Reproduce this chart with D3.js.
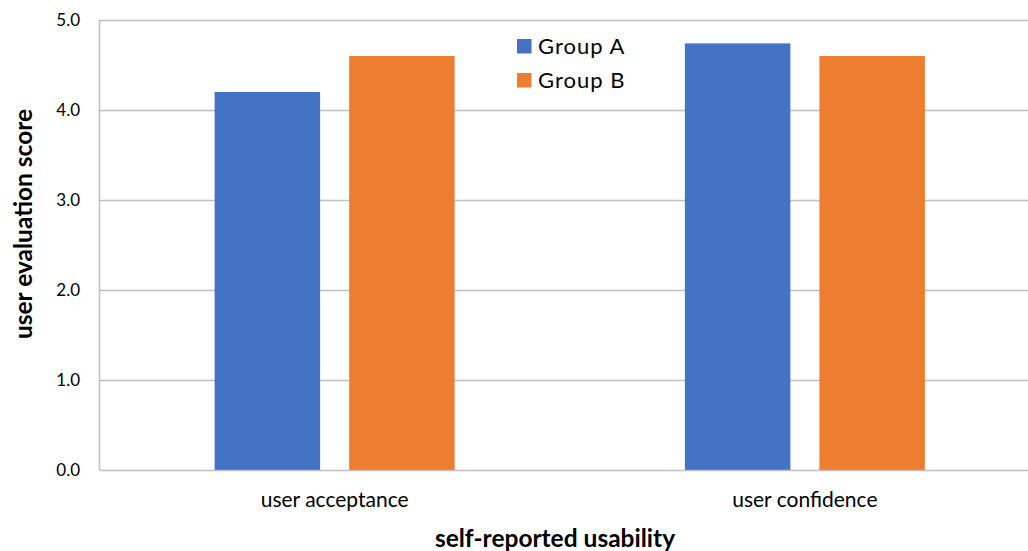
<!DOCTYPE html>
<html><head><meta charset="utf-8">
<script src="https://cdn.jsdelivr.net/npm/d3@7"></script>
<style>
html,body{margin:0;padding:0;background:#fff;}
text{font-family:Lato, "Open Sans", sans-serif;fill:#000;}
</style></head>
<body>
<svg id="chart" width="1028" height="551"></svg>
<script>
const categories = ["user acceptance", "user confidence"];
const groups = ["Group A", "Group B"];
const groupA = [4.2, 4.74];
const groupB = [4.6, 4.6];
const yTicks = [0, 1, 2, 3, 4, 5];
const colors = ["#4472C4", "#ED7D31"];

const svg = d3.select("#chart");
const pLeft = 99.5, pRight = 1040, pTop = 20, pBottom = 470;

const y = d3.scaleLinear().domain([0, 5]).range([pBottom, pTop]);
const x0 = d3.scaleBand().domain(categories).range([pLeft, pRight]);
const groupW = 240;
const x1 = d3.scaleBand().domain(groups).range([0, groupW]).paddingInner(0.216);

// gridlines
svg.append("g").selectAll("line").data(yTicks.filter(d => d > 0)).join("line")
  .attr("x1", pLeft).attr("x2", 1028)
  .attr("y1", d => Math.round(y(d)) + 0.5).attr("y2", d => Math.round(y(d)) + 0.5)
  .attr("stroke", "#bfbfbf").attr("stroke-width", 1.5);

// bars
const series = [groupA, groupB];
const data = [];
categories.forEach((c, i) => groups.forEach((g, j) => data.push({c, g, v: series[j][i], j})));
svg.append("g").selectAll("rect").data(data).join("rect")
  .attr("x", d => x0(d.c) + (x0.bandwidth() - groupW) / 2 + x1(d.g))
  .attr("width", x1.bandwidth())
  .attr("y", d => y(d.v))
  .attr("height", d => y(0) - y(d.v))
  .attr("fill", d => colors[d.j]);

// axes lines
svg.append("line").attr("x1", pLeft).attr("x2", pLeft).attr("y1", pTop).attr("y2", pBottom)
  .attr("stroke", "#bfbfbf").attr("stroke-width", 1.5);
svg.append("line").attr("x1", pLeft).attr("x2", 1028).attr("y1", pBottom + 0.5).attr("y2", pBottom + 0.5)
  .attr("stroke", "#bfbfbf").attr("stroke-width", 1.5);

// y tick labels
const yAxis = d3.axisLeft(y).tickValues(yTicks).tickFormat(d3.format(".1f")).tickSize(0).tickPadding(19.5);
const ya = svg.append("g").attr("transform", `translate(${pLeft},0)`).call(yAxis);
ya.select(".domain").remove();
ya.selectAll("text").attr("font-size", 17).attr("font-family", "Lato").attr("fill", "#000");

// x category labels
const xAxis = d3.axisBottom(x0).tickSize(0).tickPadding(22);
const xa = svg.append("g").attr("transform", `translate(0,${pBottom})`).call(xAxis);
xa.select(".domain").remove();
xa.selectAll("text").attr("font-size", 21).attr("font-family", "Lato").attr("fill", "#000")
  .attr("dy", null).attr("y", 37);

// axis titles
svg.append("text").attr("x", 555).attr("y", 547).attr("text-anchor", "middle")
  .attr("font-size", 24.5).attr("font-weight", "bold").text("self-reported usability");
svg.append("text").attr("transform", "translate(32,224) rotate(-90)").attr("text-anchor", "middle")
  .attr("font-size", 24.5).attr("font-weight", "bold").text("user evaluation score");

// legend
const lg = svg.append("g").attr("transform", "translate(517,39)");
groups.forEach((g, i) => {
  lg.append("rect").attr("x", 0).attr("y", i * 34).attr("width", 14.5).attr("height", 14.5).attr("fill", colors[i]);
  lg.append("text").attr("x", 21).attr("y", i * 34 + 14.5).attr("font-size", 22)
    .attr("letter-spacing", 1).text(g);
});
</script>
</body></html>
